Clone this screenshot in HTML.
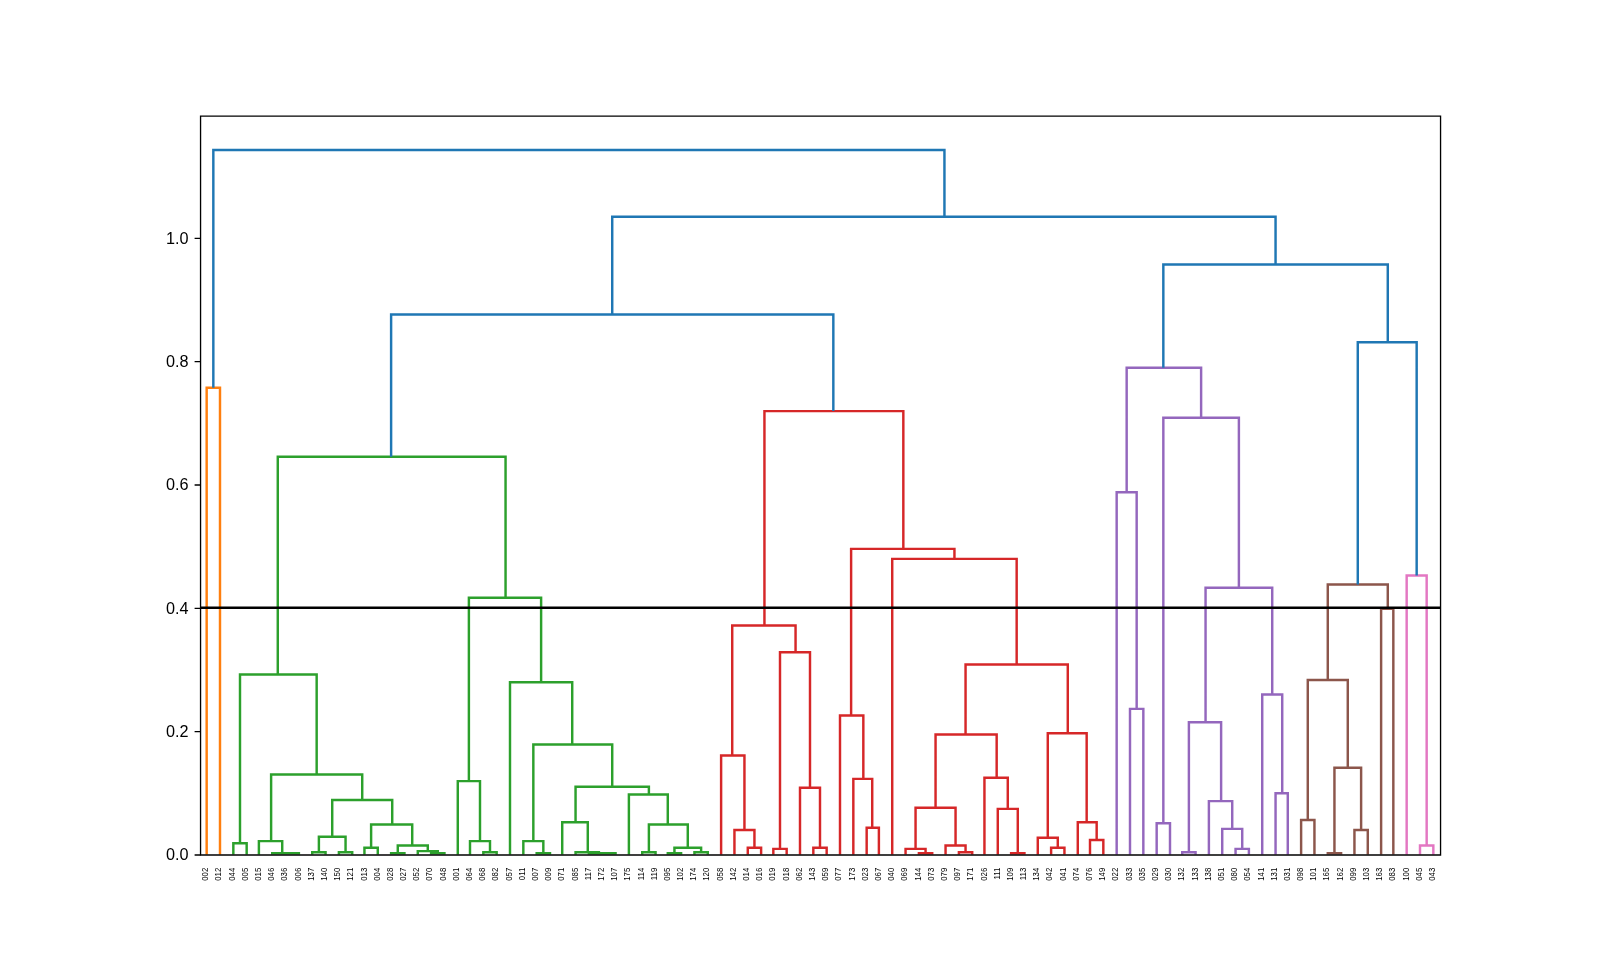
<!DOCTYPE html>
<html><head><meta charset="utf-8">
<style>
html,body{margin:0;padding:0;background:#fff;overflow:hidden;}
svg{display:block;}
.yl,.xl{filter:grayscale(1);}
.yl{font-family:"Liberation Sans",sans-serif;font-size:14.60px;fill:#000;text-anchor:end;}
.xl{font-family:"Liberation Sans",sans-serif;font-size:7.00px;fill:#000;text-anchor:end;}
</style></head><body>
<svg width="1600" height="960" viewBox="0 0 1440 864">
<rect width="1440" height="864" fill="#fff"/>
<g>
<g fill="none" stroke-width="2.200">
<path stroke="#ff7f0e" d="M186 769V349H198V769"/>
<path stroke="#2ca02c" d="M210 769V759H222V769M257 769V768H269V769M245 769V768H263V768M233 769V757H254V768M281 769V767H293V769M305 769V767H317V769M287 767V753H311V767M328 769V763H340V769M352 769V768H364V769M388 769V768H400V769M376 769V766H394V768M358 768V761H385V766M334 763V742H371V761M299 753V720H353V742M244 757V697H326V720M216 759V607H285V697M435 769V767H447V769M423 769V757H441V767M412 769V703H432V757M483 769V768H495V769M471 769V757H489V768M542 769V768H554V769M530 769V768H548V768M518 769V767H539V768M506 769V740H529V767M578 769V767H590V769M601 769V768H613V769M625 769V767H637V769M607 768V763H631V767M584 767V742H619V763M566 769V715H601V742M518 740V708H584V715M480 757V670H551V708M459 769V614H515V670M422 703V538H487V614M250 607V411H455V538"/>
<path stroke="#d62728" d="M673 769V763H685V769M661 769V747H679V763M649 769V680H670V747M696 769V764H708V769M732 769V763H744V769M720 769V709H738V763M702 764V587H729V709M659 680V563H716V587M780 769V745H791V769M768 769V701H785V745M756 769V644H777V701M827 769V768H839V769M815 769V764H833V768M863 769V767H875V769M851 769V761H869V767M824 764V727H860V761M910 769V768H922V769M898 769V728H916V768M886 769V700H907V728M842 727V661H897V700M946 769V763H958V769M934 769V754H952V763M981 769V756H993V769M970 769V740H987V756M943 754V660H978V740M869 661V598H961V660M803 769V503H915V598M766 644V494H859V503M688 563V370H813V494"/>
<path stroke="#9467bd" d="M1017 769V638H1029V769M1005 769V443H1023V638M1041 769V741H1053V769M1064 769V767H1076V769M1112 769V764H1124V769M1100 769V746H1118V764M1088 769V721H1109V746M1070 767V650H1099V721M1148 769V714H1159V769M1136 769V625H1154V714M1085 650V529H1145V625M1047 741V376H1115V529M1014 443V331H1081V376"/>
<path stroke="#8c564b" d="M1171 769V738H1183V769M1195 769V768H1207V769M1219 769V747H1231V769M1201 768V691H1225V747M1177 738V612H1213V691M1243 769V548H1254V769M1195 612V526H1249V548"/>
<path stroke="#e377c2" d="M1278 769V761H1290V769M1266 769V518H1284V761"/>
<path stroke="#1f77b4" d="M352 411V283H750V370M1222 526V308H1275V518M1047 331V238H1249V308M551 283V195H1148V238M192 349V135H850V195"/>
</g>
<path d="M180 547H1296" stroke="#000" stroke-width="2.200"/>
<path d="M180.5 104.5V769.5M1296.5 104.5V769.5M180.5 104.5H1296.5M180.5 769.5H1296.5" stroke="#000" stroke-width="1.200" stroke-linecap="square"/>
<path d="M175.14 769.5H180.5M175.14 658.5H180.5M175.14 547.5H180.5M175.14 436.5H180.5M175.14 325.5H180.5M175.14 214.5H180.5" stroke="#000" stroke-width="1.200"/>
<g class="yl"><text transform="translate(169.60 774.36) scale(1.000 1)">0.0</text><text transform="translate(169.60 663.34) scale(1.000 1)">0.2</text><text transform="translate(169.60 552.32) scale(1.000 1)">0.4</text><text transform="translate(169.60 441.30) scale(1.000 1)">0.6</text><text transform="translate(169.60 330.27) scale(1.000 1)">0.8</text><text transform="translate(169.60 219.25) scale(1.000 1)">1.0</text></g>
<g class="xl"><text transform="translate(187.39 781.00) rotate(-90) scale(1 1.050)">002</text><text transform="translate(199.26 781.00) rotate(-90) scale(1 1.050)">012</text><text transform="translate(211.13 781.00) rotate(-90) scale(1 1.050)">044</text><text transform="translate(223.00 781.00) rotate(-90) scale(1 1.050)">005</text><text transform="translate(234.88 781.00) rotate(-90) scale(1 1.050)">015</text><text transform="translate(246.75 781.00) rotate(-90) scale(1 1.050)">046</text><text transform="translate(258.62 781.00) rotate(-90) scale(1 1.050)">036</text><text transform="translate(270.49 781.00) rotate(-90) scale(1 1.050)">006</text><text transform="translate(282.36 781.00) rotate(-90) scale(1 1.050)">137</text><text transform="translate(294.24 781.00) rotate(-90) scale(1 1.050)">140</text><text transform="translate(306.11 781.00) rotate(-90) scale(1 1.050)">150</text><text transform="translate(317.98 781.00) rotate(-90) scale(1 1.050)">121</text><text transform="translate(329.85 781.00) rotate(-90) scale(1 1.050)">013</text><text transform="translate(341.73 781.00) rotate(-90) scale(1 1.050)">004</text><text transform="translate(353.60 781.00) rotate(-90) scale(1 1.050)">028</text><text transform="translate(365.47 781.00) rotate(-90) scale(1 1.050)">027</text><text transform="translate(377.34 781.00) rotate(-90) scale(1 1.050)">052</text><text transform="translate(389.22 781.00) rotate(-90) scale(1 1.050)">070</text><text transform="translate(401.09 781.00) rotate(-90) scale(1 1.050)">048</text><text transform="translate(412.96 781.00) rotate(-90) scale(1 1.050)">001</text><text transform="translate(424.83 781.00) rotate(-90) scale(1 1.050)">064</text><text transform="translate(436.71 781.00) rotate(-90) scale(1 1.050)">068</text><text transform="translate(448.58 781.00) rotate(-90) scale(1 1.050)">082</text><text transform="translate(460.45 781.00) rotate(-90) scale(1 1.050)">057</text><text transform="translate(472.32 781.00) rotate(-90) scale(1 1.050)">011</text><text transform="translate(484.19 781.00) rotate(-90) scale(1 1.050)">007</text><text transform="translate(496.07 781.00) rotate(-90) scale(1 1.050)">009</text><text transform="translate(507.94 781.00) rotate(-90) scale(1 1.050)">071</text><text transform="translate(519.81 781.00) rotate(-90) scale(1 1.050)">085</text><text transform="translate(531.68 781.00) rotate(-90) scale(1 1.050)">117</text><text transform="translate(543.56 781.00) rotate(-90) scale(1 1.050)">172</text><text transform="translate(555.43 781.00) rotate(-90) scale(1 1.050)">107</text><text transform="translate(567.30 781.00) rotate(-90) scale(1 1.050)">175</text><text transform="translate(579.17 781.00) rotate(-90) scale(1 1.050)">114</text><text transform="translate(591.05 781.00) rotate(-90) scale(1 1.050)">119</text><text transform="translate(602.92 781.00) rotate(-90) scale(1 1.050)">095</text><text transform="translate(614.79 781.00) rotate(-90) scale(1 1.050)">102</text><text transform="translate(626.66 781.00) rotate(-90) scale(1 1.050)">174</text><text transform="translate(638.54 781.00) rotate(-90) scale(1 1.050)">120</text><text transform="translate(650.41 781.00) rotate(-90) scale(1 1.050)">058</text><text transform="translate(662.28 781.00) rotate(-90) scale(1 1.050)">142</text><text transform="translate(674.15 781.00) rotate(-90) scale(1 1.050)">014</text><text transform="translate(686.02 781.00) rotate(-90) scale(1 1.050)">016</text><text transform="translate(697.90 781.00) rotate(-90) scale(1 1.050)">019</text><text transform="translate(709.77 781.00) rotate(-90) scale(1 1.050)">018</text><text transform="translate(721.64 781.00) rotate(-90) scale(1 1.050)">062</text><text transform="translate(733.51 781.00) rotate(-90) scale(1 1.050)">143</text><text transform="translate(745.39 781.00) rotate(-90) scale(1 1.050)">059</text><text transform="translate(757.26 781.00) rotate(-90) scale(1 1.050)">077</text><text transform="translate(769.13 781.00) rotate(-90) scale(1 1.050)">173</text><text transform="translate(781.00 781.00) rotate(-90) scale(1 1.050)">023</text><text transform="translate(792.88 781.00) rotate(-90) scale(1 1.050)">067</text><text transform="translate(804.75 781.00) rotate(-90) scale(1 1.050)">040</text><text transform="translate(816.62 781.00) rotate(-90) scale(1 1.050)">069</text><text transform="translate(828.49 781.00) rotate(-90) scale(1 1.050)">144</text><text transform="translate(840.36 781.00) rotate(-90) scale(1 1.050)">073</text><text transform="translate(852.24 781.00) rotate(-90) scale(1 1.050)">079</text><text transform="translate(864.11 781.00) rotate(-90) scale(1 1.050)">097</text><text transform="translate(875.98 781.00) rotate(-90) scale(1 1.050)">171</text><text transform="translate(887.85 781.00) rotate(-90) scale(1 1.050)">026</text><text transform="translate(899.73 781.00) rotate(-90) scale(1 1.050)">111</text><text transform="translate(911.60 781.00) rotate(-90) scale(1 1.050)">109</text><text transform="translate(923.47 781.00) rotate(-90) scale(1 1.050)">113</text><text transform="translate(935.34 781.00) rotate(-90) scale(1 1.050)">134</text><text transform="translate(947.22 781.00) rotate(-90) scale(1 1.050)">042</text><text transform="translate(959.09 781.00) rotate(-90) scale(1 1.050)">041</text><text transform="translate(970.96 781.00) rotate(-90) scale(1 1.050)">074</text><text transform="translate(982.83 781.00) rotate(-90) scale(1 1.050)">076</text><text transform="translate(994.71 781.00) rotate(-90) scale(1 1.050)">149</text><text transform="translate(1006.58 781.00) rotate(-90) scale(1 1.050)">022</text><text transform="translate(1018.45 781.00) rotate(-90) scale(1 1.050)">033</text><text transform="translate(1030.32 781.00) rotate(-90) scale(1 1.050)">035</text><text transform="translate(1042.19 781.00) rotate(-90) scale(1 1.050)">029</text><text transform="translate(1054.07 781.00) rotate(-90) scale(1 1.050)">030</text><text transform="translate(1065.94 781.00) rotate(-90) scale(1 1.050)">132</text><text transform="translate(1077.81 781.00) rotate(-90) scale(1 1.050)">133</text><text transform="translate(1089.68 781.00) rotate(-90) scale(1 1.050)">138</text><text transform="translate(1101.56 781.00) rotate(-90) scale(1 1.050)">051</text><text transform="translate(1113.43 781.00) rotate(-90) scale(1 1.050)">080</text><text transform="translate(1125.30 781.00) rotate(-90) scale(1 1.050)">054</text><text transform="translate(1137.17 781.00) rotate(-90) scale(1 1.050)">141</text><text transform="translate(1149.05 781.00) rotate(-90) scale(1 1.050)">131</text><text transform="translate(1160.92 781.00) rotate(-90) scale(1 1.050)">031</text><text transform="translate(1172.79 781.00) rotate(-90) scale(1 1.050)">098</text><text transform="translate(1184.66 781.00) rotate(-90) scale(1 1.050)">101</text><text transform="translate(1196.54 781.00) rotate(-90) scale(1 1.050)">165</text><text transform="translate(1208.41 781.00) rotate(-90) scale(1 1.050)">162</text><text transform="translate(1220.28 781.00) rotate(-90) scale(1 1.050)">099</text><text transform="translate(1232.15 781.00) rotate(-90) scale(1 1.050)">103</text><text transform="translate(1244.02 781.00) rotate(-90) scale(1 1.050)">163</text><text transform="translate(1255.90 781.00) rotate(-90) scale(1 1.050)">083</text><text transform="translate(1267.77 781.00) rotate(-90) scale(1 1.050)">100</text><text transform="translate(1279.64 781.00) rotate(-90) scale(1 1.050)">045</text><text transform="translate(1291.51 781.00) rotate(-90) scale(1 1.050)">043</text></g>
</g>
</svg>
</body></html>
